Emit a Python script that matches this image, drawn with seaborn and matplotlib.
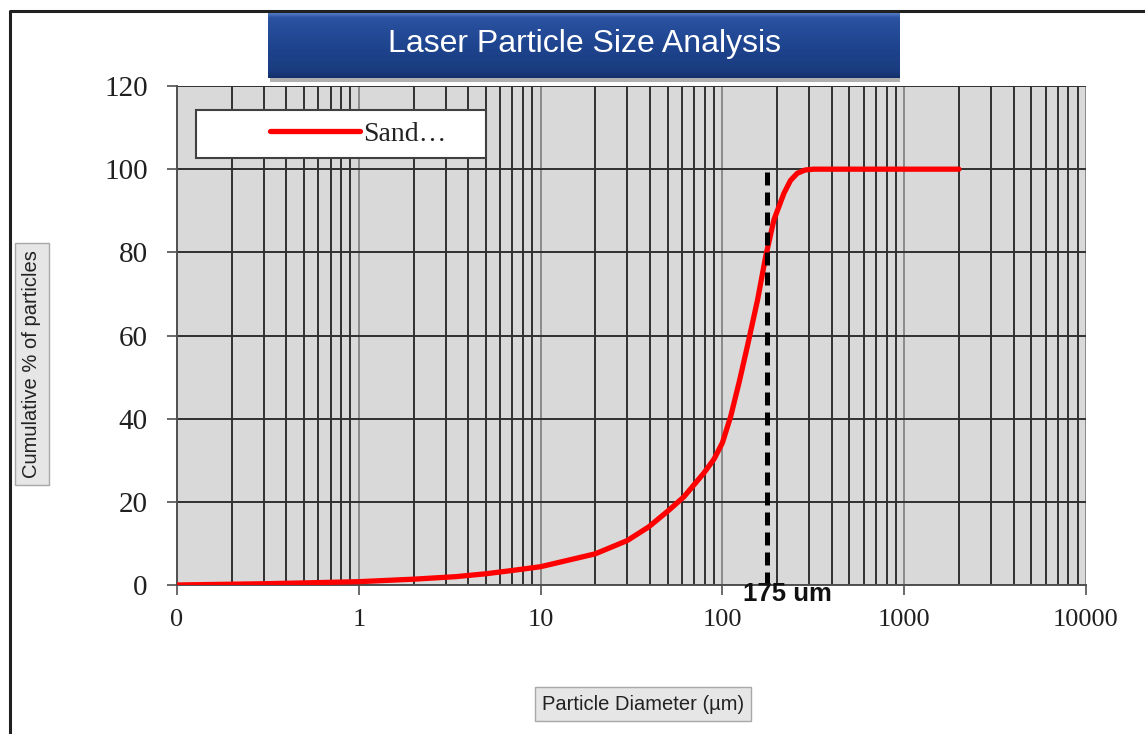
import numpy as np
import pandas as pd
import matplotlib
matplotlib.use("Agg")
import matplotlib.pyplot as plt
import seaborn as sns
from matplotlib.ticker import LogLocator, FixedLocator, FuncFormatter, NullFormatter
from matplotlib.lines import Line2D
from matplotlib.patches import Rectangle
from matplotlib.colors import LinearSegmentedColormap

# ---- data ----
diameter_um = [0.1, 0.3, 0.5, 1, 2, 3.4, 5, 7, 10, 20, 30, 39.4, 50.8, 61.4, 79, 90, 100, 111, 124, 137,
               156, 173, 192, 218, 237, 258, 285, 318, 500, 1000, 2000]
cumulative_pct = [0, 0.3, 0.5, 0.8, 1.4, 2.0, 2.7, 3.5, 4.4, 7.5, 10.7, 14, 18, 21.2, 26.9, 30.3, 34.2, 40.5, 49, 57.3,
                  68.5, 79, 87.8, 94.2, 97.3, 99, 99.8, 100, 100, 100, 100]
series_name = "Sand…"
marker_size_um = 175
marker_top_pct = 100
marker_label = "175 um"
x_tick_values = [0.1, 1, 10, 100, 1000, 10000]
x_tick_labels = ["0", "1", "10", "100", "1000", "10000"]
y_tick_values = [0, 20, 40, 60, 80, 100, 120]
title_text = "Laser Particle Size Analysis"
x_label = "Particle Diameter (µm)"
y_label = "Cumulative % of particles"

df = pd.DataFrame({"Diameter": diameter_um, "Cumulative": cumulative_pct, "Series": series_name})

sns.set_style("ticks")
plt.rcParams["font.family"] = ["Liberation Sans", "DejaVu Sans"]

W, H = 1145, 734
fig = plt.figure(figsize=(W / 100, H / 100), dpi=100)
fig.patch.set_facecolor("white")

def fx(px):
    return px / W

def fy(py):
    return 1 - py / H

ax = fig.add_axes([fx(177), fy(585), fx(1086) - fx(177), fy(86) - fy(585)])
ax.set_facecolor("#d9d9d9")

sns.lineplot(data=df, x="Diameter", y="Cumulative", hue="Series", palette=["#ff0000"],
             linewidth=3.8, ax=ax, zorder=3, legend=True)
for ln in ax.get_lines():
    ln.set_solid_joinstyle("round")
    ln.set_solid_capstyle("round")

ax.set_xscale("log")
ax.set_xlim(x_tick_values[0], x_tick_values[-1])
ax.set_ylim(y_tick_values[0], y_tick_values[-1])

ax.xaxis.set_major_locator(FixedLocator(x_tick_values))
ax.xaxis.set_major_formatter(FuncFormatter(lambda v, p: x_tick_labels[x_tick_values.index(v)] if v in x_tick_values else ""))
ax.xaxis.set_minor_locator(LogLocator(base=10, subs=np.arange(2, 10)))
ax.xaxis.set_minor_formatter(NullFormatter())
ax.yaxis.set_major_locator(FixedLocator(y_tick_values))

ax.set_axisbelow(True)
ax.grid(which="minor", axis="x", color="#303030", linewidth=1.4)
ax.grid(which="major", axis="x", color="#8a8a8a", linewidth=1.4)
ax.grid(which="major", axis="y", color="#303030", linewidth=1.4)

for s in ["top", "right"]:
    ax.spines[s].set_visible(False)
for s in ["left", "bottom"]:
    ax.spines[s].set_color("#505050")
    ax.spines[s].set_linewidth(1.4)

ax.tick_params(axis="x", which="major", direction="out", length=7, width=1.2, color="#505050", pad=10)
ax.tick_params(axis="x", which="minor", length=0)
ax.tick_params(axis="y", which="major", direction="out", length=7, width=1.2, color="#505050", pad=14)
for lab in ax.get_xticklabels():
    lab.set_family(["Liberation Serif", "DejaVu Serif"])
    lab.set_fontsize(19)
    lab.set_color("#202020")
for lab in ax.get_yticklabels():
    lab.set_family(["Liberation Serif", "DejaVu Serif"])
    lab.set_fontsize(21)
    lab.set_color("#202020")

# dashed marker line
ax.vlines(marker_size_um, 0, marker_top_pct, colors="black", linewidth=3.6,
          linestyles=(0, (2.6, 1.4)), zorder=4)
ax.annotate(marker_label, xy=(marker_size_um, 0), xytext=(-17, 2), textcoords="offset points",
            ha="left", va="top", fontsize=18.5, fontweight="bold", color="#111111",
            annotation_clip=False, zorder=5)

# axis labels in boxes
lab_box = dict(boxstyle="square,pad=0.35", fc="#e6e6e6", ec="#a8a8a8", lw=1.0)
ax.set_xlabel(x_label, fontsize=14.5, color="#222222", bbox=lab_box, va="center", ha="center")
ax.xaxis.set_label_coords((643 - 177) / 909, (585 - 704) / 499)
ax.set_ylabel(y_label, fontsize=14.5, color="#222222", bbox=lab_box, va="center", ha="center")
ax.yaxis.set_label_coords((32 - 177) / 909, (585 - 364) / 499)

# legend: white box + frameless legend entry placed inside it
ax.add_patch(Rectangle(((196 - 177) / 909, (585 - 158) / 499), (486 - 196) / 909, (158 - 110) / 499,
                       transform=ax.transAxes, facecolor="white", edgecolor="#404040", linewidth=1.5,
                       zorder=6, clip_on=False))
handles, labels = ax.get_legend_handles_labels()
leg = ax.legend(handles, labels, loc="center left",
                bbox_to_anchor=((270 - 177) / 909, (585 - 134) / 499),
                frameon=False, prop={"family": ["Liberation Serif", "DejaVu Serif"], "size": 20},
                handlelength=3.25, handletextpad=0.12, borderpad=0, borderaxespad=0)
leg.set_zorder(7)
for t in leg.get_texts():
    t.set_color("#222222")

# title box with gradient
tax = fig.add_axes([fx(268), fy(78), fx(900) - fx(268), fy(12) - fy(78)])
grad = np.linspace(0, 1, 100).reshape(-1, 1)
cmap = LinearSegmentedColormap.from_list("tb", [(0, "#5b82cc"), (0.08, "#2a52a0"), (0.5, "#1f4590"), (0.9, "#1a3b7e"), (1, "#13306a")])
tax.imshow(grad, aspect="auto", cmap=cmap, extent=[0, 1, 0, 1], origin="upper")
tax.set_xlim(0, 1)
tax.set_ylim(0, 1)
tax.axis("off")
tax.text(0.5, 0.52, title_text, ha="center", va="center", color="white", fontsize=23)
fig.patches.append(Rectangle((fx(270), fy(82)), fx(900) - fx(270), fy(78) - fy(82),
                             transform=fig.transFigure, facecolor="#b0b0b0", edgecolor="none", zorder=0))

# outer border lines (left and top)
fig.add_artist(Line2D([fx(10), fx(10), fx(1145)], [fy(734), fy(11), fy(11)], color="#202020", linewidth=2.2))

fig.savefig("out.png", dpi=100)
